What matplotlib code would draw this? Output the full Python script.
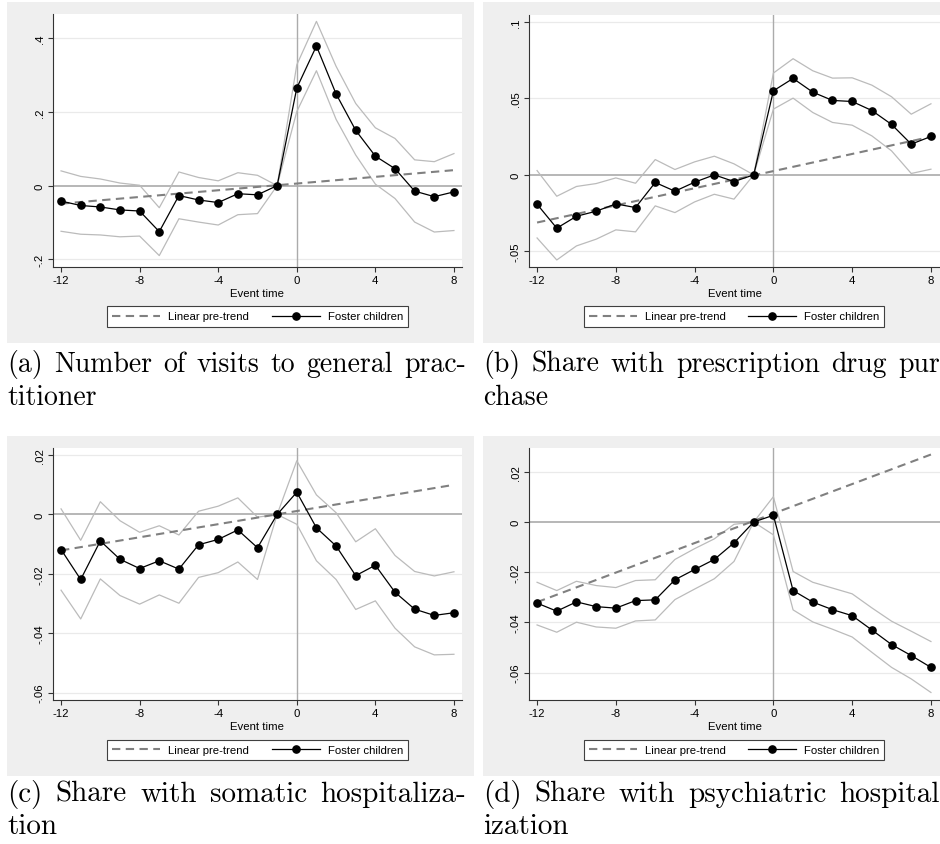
import matplotlib
matplotlib.use("Agg")
import matplotlib.pyplot as plt
from matplotlib.lines import Line2D
from matplotlib.patches import Rectangle

plt.rcParams['font.family'] = ['Liberation Sans', 'DejaVu Sans']

# ---------------- data ----------------
event_time = list(range(-12, 9))

a_est = [-0.042, -0.054, -0.058, -0.066, -0.069, -0.125, -0.027, -0.039, -0.046, -0.022, -0.025, 0.0,
         0.265, 0.379, 0.249, 0.150, 0.080, 0.046, -0.015, -0.030, -0.017]
a_hi = [0.040, 0.025, 0.018, 0.007, 0.001, -0.060, 0.037, 0.022, 0.013, 0.035, 0.028, 0.0,
        0.328, 0.446, 0.324, 0.223, 0.157, 0.128, 0.070, 0.065, 0.087]
a_lo = [-0.124, -0.132, -0.134, -0.139, -0.137, -0.190, -0.090, -0.099, -0.107, -0.079, -0.076, 0.0,
        0.201, 0.312, 0.180, 0.083, 0.004, -0.035, -0.099, -0.126, -0.122]
a_trend = [-0.049, 0.042]

b_est = [-0.0192, -0.0349, -0.0271, -0.0238, -0.0190, -0.0214, -0.0050, -0.0107, -0.0048, 0.0, -0.0044, 0.0,
         0.0550, 0.0631, 0.0541, 0.0487, 0.0480, 0.0421, 0.0330, 0.0201, 0.0251]
b_hi = [0.0028, -0.0140, -0.0076, -0.0057, -0.0020, -0.0055, 0.0100, 0.0035, 0.0085, 0.0122, 0.0072, 0.0,
        0.0666, 0.0760, 0.0681, 0.0633, 0.0635, 0.0587, 0.0511, 0.0397, 0.0465]
b_lo = [-0.0413, -0.0557, -0.0465, -0.0421, -0.0360, -0.0373, -0.0203, -0.0247, -0.0177, -0.0127, -0.0159, 0.0,
        0.0430, 0.0502, 0.0408, 0.0343, 0.0325, 0.0255, 0.0157, 0.0009, 0.0037]
b_trend = [-0.0312, 0.0249]

c_est = [-0.0118, -0.0219, -0.0089, -0.0151, -0.0182, -0.0156, -0.0184, -0.0102, -0.0084, -0.0052, -0.0112, 0.0,
         0.0075, -0.0045, -0.0106, -0.0206, -0.0171, -0.0262, -0.0319, -0.0340, -0.0331]
c_hi = [0.0019, -0.0087, 0.0043, -0.0021, -0.0060, -0.0038, -0.0069, 0.0011, 0.0028, 0.0056, -0.0009, 0.0,
        0.0181, 0.0066, 0.0006, -0.0092, -0.0048, -0.0138, -0.0192, -0.0207, -0.0193]
c_lo = [-0.0255, -0.0352, -0.0217, -0.0273, -0.0302, -0.0271, -0.0299, -0.0212, -0.0196, -0.0160, -0.0219, 0.0,
        -0.0033, -0.0156, -0.0219, -0.0320, -0.0291, -0.0383, -0.0446, -0.0473, -0.0471]
c_trend = [-0.0121, 0.0100]

d_est = [-0.0323, -0.0355, -0.0318, -0.0337, -0.0343, -0.0313, -0.0310, -0.0230, -0.0189, -0.0149, -0.0083, 0.0,
         0.0027, -0.0273, -0.0319, -0.0349, -0.0373, -0.0430, -0.0488, -0.0532, -0.0579]
d_hi = [-0.0240, -0.0273, -0.0236, -0.0253, -0.0261, -0.0233, -0.0230, -0.0149, -0.0106, -0.0067, -0.0009, 0.0,
        0.0101, -0.0197, -0.0240, -0.0263, -0.0286, -0.0342, -0.0395, -0.0435, -0.0476]
d_lo = [-0.0410, -0.0439, -0.0399, -0.0418, -0.0423, -0.0394, -0.0390, -0.0309, -0.0267, -0.0226, -0.0157, 0.0,
        -0.0051, -0.0350, -0.0398, -0.0427, -0.0458, -0.0519, -0.0579, -0.0625, -0.0679]
d_trend = [-0.0319, 0.0269]

trend_x = [-12, 8]

x_ticks = [-12, -8, -4, 0, 4, 8]
x_ticklabels = ["-12", "-8", "-4", "0", "4", "8"]

a_yticks = [-0.2, 0.0, 0.2, 0.4]
a_yticklabels = ["-.2", "0", ".2", ".4"]
b_yticks = [-0.05, 0.0, 0.05, 0.1]
b_yticklabels = ["-.05", "0", ".05", ".1"]
c_yticks = [-0.06, -0.04, -0.02, 0.0, 0.02]
c_yticklabels = ["-.06", "-.04", "-.02", "0", ".02"]
d_yticks = [-0.06, -0.04, -0.02, 0.0, 0.02]
d_yticklabels = ["-.06", "-.04", "-.02", "0", ".02"]

x_label = "Event time"
legend_labels = ["Linear pre-trend", "Foster children"]

a_caption = ["(a) Number of visits to general prac-", "titioner"]
b_caption = ["(b) Share with prescription drug pur", "chase"]
c_caption = ["(c) Share with somatic hospitaliza-", "tion"]
d_caption = ["(d) Share with psychiatric hospital", "ization"]

# ---------------- layout (pixels) ----------------
W, H = 940, 845
fig = plt.figure(figsize=(W / 100, H / 100), dpi=100)
fig.patch.set_facecolor('white')


def rect(x0, y0, x1, y1):
    return [x0 / W, 1 - y1 / H, (x1 - x0) / W, (y1 - y0) / H]


BG = '#EFEFEF'
FS = 8.2

panels = [
    dict(bg=(7, 3, 474, 344), ax=(53, 15, 462, 268), xlim=(-12.41, 8.41), ylim=(-0.221, 0.466),
         est=a_est, hi=a_hi, lo=a_lo, trend=a_trend, yt=a_yticks, ytl=a_yticklabels,
         xlab_y=294, leg=(257.5, 317.5), cap=a_caption, cap_x=(7, 466), cap_y=(372, 405), cap_fs=20),
    dict(bg=(483, 3, 940, 344), ax=(529, 16, 940, 268), xlim=(-12.41, 8.46), ylim=(-0.0603, 0.1046),
         est=b_est, hi=b_hi, lo=b_lo, trend=b_trend, yt=b_yticks, ytl=b_yticklabels,
         xlab_y=294, leg=(734, 317.5), cap=b_caption, cap_x=(483, 940), cap_y=(372, 405), cap_fs=20),
    dict(bg=(7, 437, 474, 777), ax=(53, 449, 462, 701), xlim=(-12.41, 8.41), ylim=(-0.0625, 0.0224),
         est=c_est, hi=c_hi, lo=c_lo, trend=c_trend, yt=c_yticks, ytl=c_yticklabels,
         xlab_y=727, leg=(257.5, 751), cap=c_caption, cap_x=(7, 466), cap_y=(802, 834), cap_fs=21),
    dict(bg=(483, 437, 940, 777), ax=(529, 449, 940, 701), xlim=(-12.41, 8.46), ylim=(-0.0709, 0.0295),
         est=d_est, hi=d_hi, lo=d_lo, trend=d_trend, yt=d_yticks, ytl=d_yticklabels,
         xlab_y=727, leg=(734, 751), cap=d_caption, cap_x=(483, 940), cap_y=(802, 834), cap_fs=21),
]

renderer = fig.canvas.get_renderer()


def justified(words_line, x0, x1, y, fs):
    words = words_line.split(' ')
    texts = [fig.text(0, 0, w, family='cmr10', fontsize=fs, color='black',
                      va='baseline', ha='left') for w in words]
    widths = [t.get_window_extent(renderer).width for t in texts]
    gap = (x1 - x0 - sum(widths)) / max(len(words) - 1, 1)
    x = x0
    for t, w in zip(texts, widths):
        t.set_position((x / W, 1 - y / H))
        x += w + gap


for p in panels:
    bx0, by0, bx1, by1 = p['bg']
    fig.add_artist(Rectangle((bx0 / W, 1 - by1 / H), (bx1 - bx0) / W, (by1 - by0) / H,
                             transform=fig.transFigure, facecolor=BG, edgecolor='none', zorder=0))
    ax = fig.add_axes(rect(*p['ax']))
    ax.set_facecolor('white')
    ax.set_xlim(*p['xlim'])
    ax.set_ylim(*p['ylim'])

    for v in p['yt']:
        if v != 0:
            ax.axhline(v, color='#EAEAEA', lw=0.9, zorder=1)
    ax.axhline(0, color='#A3A3A3', lw=1.1, zorder=2)
    ax.axvline(0, color='#ABABAB', lw=1.0, zorder=2)

    ax.plot(event_time, p['hi'], color='#BBBBBB', lw=0.9, zorder=3)
    ax.plot(event_time, p['lo'], color='#BBBBBB', lw=0.9, zorder=3)
    ax.plot(trend_x, p['trend'], color='#808080', lw=1.5, ls=(0, (4, 2.6)), zorder=4)
    ax.plot(event_time, p['est'], color='black', lw=0.9, marker='o', ms=5.2, zorder=5)

    for s in ['top', 'right']:
        ax.spines[s].set_visible(False)
    for s in ['left', 'bottom']:
        ax.spines[s].set_color('#333333')
        ax.spines[s].set_linewidth(0.8)

    ax.set_xticks(x_ticks)
    ax.set_xticklabels(x_ticklabels)
    ax.set_yticks(p['yt'])
    ax.set_yticklabels(p['ytl'], rotation=90, va='center')
    ax.tick_params(axis='both', direction='out', length=3.6, width=0.8, color='#333333',
                   labelsize=FS, pad=2.2, labelcolor='black')

    cx = (p['ax'][0] + p['ax'][2]) / 2
    fig.text(cx / W, 1 - p['xlab_y'] / H, x_label, ha='center', va='center', fontsize=FS)

    handles = [Line2D([], [], color='#808080', lw=1.5, ls=(0, (4, 2.6))),
               Line2D([], [], color='black', lw=0.9, marker='o', ms=5.2)]
    leg = ax.legend(handles, legend_labels, loc='center',
                    bbox_to_anchor=(p['leg'][0] / W, 1 - p['leg'][1] / H),
                    bbox_transform=fig.transFigure, ncol=2, fontsize=FS, frameon=True,
                    fancybox=False, edgecolor='#404040', facecolor='white', framealpha=1,
                    handlelength=4.2, handletextpad=0.7, columnspacing=2.0, borderpad=0.45,
                    borderaxespad=0, numpoints=1)
    leg.get_frame().set_linewidth(0.8)

    justified(p['cap'][0], p['cap_x'][0], p['cap_x'][1], p['cap_y'][0], p['cap_fs'])
    fig.text(p['cap_x'][0] / W, 1 - p['cap_y'][1] / H, p['cap'][1], family='cmr10',
             fontsize=p['cap_fs'], color='black', va='baseline', ha='left')

fig.savefig('out.png', dpi=100, facecolor='white')
